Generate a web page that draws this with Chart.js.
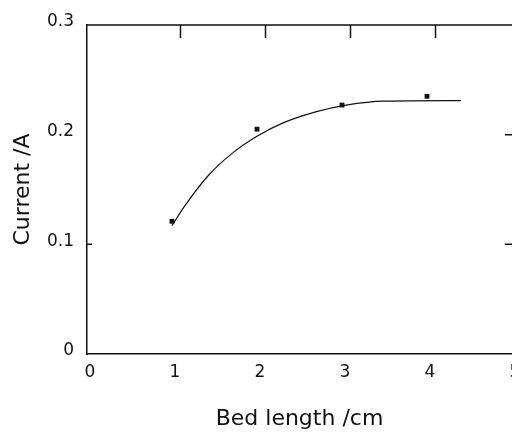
<!DOCTYPE html>
<html>
<head>
<meta charset="utf-8">
<title>Current vs bed length</title>
<script src="https://cdn.jsdelivr.net/npm/chart.js@4/dist/chart.umd.min.js"></script>
<style>
    html, body { margin: 0; padding: 0; background: #fff; }
    #wrap { width: 512px; height: 432px; }
</style>
</head>
<body>
<div id="wrap"><canvas id="chart"></canvas></div>
<script>
// Measured current for each bed length
var bedLength = [1, 2, 3, 4];
var current = [0.121, 0.205, 0.227, 0.235];

// Fitted curve through the measurements
var fitLength = [1.0, 1.15, 1.43, 1.7, 2.0, 2.3, 2.7, 3.05, 3.5, 4.4];
var fitCurrent = [0.117, 0.135, 0.163, 0.1825, 0.1985, 0.2105, 0.221, 0.227, 0.2305, 0.231];

// Axis ticks
var xTicks = [0, 1, 2, 3, 4, 5];
var yTicks = [0, 0.1, 0.2, 0.3];
var topTicks = [1, 2, 3, 4];
var rightTicks = [0.1, 0.2];

var ink = '#111';
var tickFont = { family: 'DejaVu Sans', size: 17 };
var titleFont = { family: 'DejaVu Sans', size: 22, lineHeight: 1.2 };

var toPoints = function (xs, ys) {
    return xs.map(function (x, i) { return { x: x, y: ys[i] }; });
};

var useTicks = function (values) {
    return function (scale) {
        scale.ticks = values.map(function (v) { return { value: v }; });
    };
};

// Top edge with inward ticks, inward ticks on the right edge
var framePlugin = {
    id: 'frame',
    afterDatasetsDraw: function (chart) {
        var ctx = chart.ctx;
        var area = chart.chartArea;
        var top = chart.scales.xTop;
        var y = chart.scales.y;

        ctx.save();
        ctx.strokeStyle = ink;
        ctx.lineWidth = 1.5;
        ctx.beginPath();
        ctx.moveTo(area.left, area.top);
        ctx.lineTo(area.right, area.top);
        topTicks.forEach(function (v) {
            var px = top.getPixelForValue(v);
            ctx.moveTo(px, area.top);
            ctx.lineTo(px, area.top + 13);
        });
        rightTicks.forEach(function (v) {
            var py = y.getPixelForValue(v);
            ctx.moveTo(area.right, py);
            ctx.lineTo(area.right - 7, py);
        });
        var left01 = y.getPixelForValue(0.1);
        ctx.moveTo(area.left, left01);
        ctx.lineTo(area.left + 5, left01);
        ctx.stroke();
        ctx.restore();
    }
};

var config = {
    type: 'scatter',
    data: {
        datasets: [
            {
                label: 'fit',
                data: toPoints(fitLength, fitCurrent),
                showLine: true,
                borderColor: ink,
                borderWidth: 1.2,
                pointRadius: 0,
                cubicInterpolationMode: 'monotone',
                fill: false
            },
            {
                label: 'measured',
                data: toPoints(bedLength, current),
                showLine: false,
                pointStyle: 'rect',
                pointRadius: 3.4,
                backgroundColor: ink,
                borderColor: ink,
                borderWidth: 0
            }
        ]
    },
    options: {
        responsive: true,
        maintainAspectRatio: false,
        animation: false,
        layout: {
            autoPadding: false,
            padding: { top: 25, right: 0, bottom: 0, left: 0 }
        },
        plugins: {
            legend: { display: false },
            title: { display: false },
            tooltip: { enabled: false }
        },
        scales: {
            x: {
                type: 'linear',
                position: 'bottom',
                min: 0,
                max: 5,
                afterBuildTicks: useTicks(xTicks),
                afterFit: function (scale) {
                    scale.height = 78;
                    scale.paddingLeft = 0;
                    scale.paddingRight = 0;
                },
                grid: { display: false, drawTicks: false },
                border: { display: true, color: ink, width: 1.5 },
                ticks: {
                    color: ink,
                    font: tickFont,
                    padding: 8,
                    labelOffset: 3,
                    maxRotation: 0,
                    autoSkip: false
                },
                title: {
                    display: true,
                    text: 'Bed length /cm',
                    color: ink,
                    font: titleFont,
                    padding: { top: 0, bottom: 0 }
                }
            },
            xTop: {
                type: 'linear',
                position: 'top',
                min: -0.1,
                max: 4.9,
                afterFit: function (scale) {
                    scale.height = 0;
                    scale.paddingLeft = 0;
                    scale.paddingRight = 0;
                },
                grid: { display: false, drawTicks: false },
                border: { display: false },
                ticks: { display: false }
            },
            y: {
                type: 'linear',
                position: 'left',
                min: 0,
                max: 0.3,
                afterBuildTicks: useTicks(yTicks),
                afterFit: function (scale) {
                    scale.width = 87;
                    scale.paddingTop = 0;
                    scale.paddingBottom = 0;
                },
                grid: { display: false, drawTicks: false },
                border: { display: true, color: ink, width: 1.5 },
                ticks: {
                    color: ink,
                    font: tickFont,
                    padding: 13,
                    labelOffset: -3,
                    callback: function (value) {
                        return value === 0 ? '0' : value.toFixed(1);
                    }
                },
                title: {
                    display: true,
                    text: 'Current /A',
                    color: ink,
                    font: titleFont,
                    padding: { top: 10, bottom: 0 }
                }
            }
        }
    },
    plugins: [framePlugin]
};

var ctx = document.getElementById('chart').getContext('2d');
var chart = new Chart(ctx, config);
</script>
</body>
</html>
